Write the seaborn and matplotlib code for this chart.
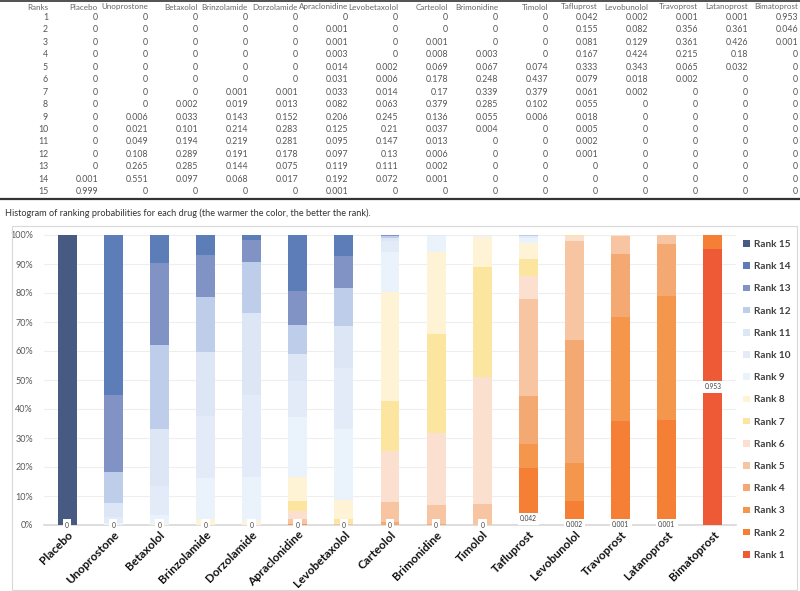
import numpy as np
import pandas as pd
import matplotlib
matplotlib.use("Agg")
import matplotlib.pyplot as plt
from matplotlib.patches import Rectangle, Patch
from matplotlib.lines import Line2D
from matplotlib.ticker import PercentFormatter
import seaborn as sns

drugs = ["Placebo", "Unoprostone", "Betaxolol", "Brinzolamide", "Dorzolamide",
         "Apraclonidine", "Levobetaxolol", "Carteolol", "Brimonidine", "Timolol",
         "Tafluprost", "Levobunolol", "Travoprost", "Latanoprost", "Bimatoprost"]
ranks = list(range(1, 16))

# probability of each rank (rank 1 .. rank 15) per drug
placebo = [0, 0, 0, 0, 0, 0, 0, 0, 0, 0, 0, 0, 0, 0.001, 0.999]
unoprostone = [0, 0, 0, 0, 0, 0, 0, 0, 0.006, 0.021, 0.049, 0.108, 0.265, 0.551, 0]
betaxolol = [0, 0, 0, 0, 0, 0, 0, 0.002, 0.033, 0.101, 0.194, 0.289, 0.285, 0.097, 0]
brinzolamide = [0, 0, 0, 0, 0, 0, 0.001, 0.019, 0.143, 0.214, 0.219, 0.191, 0.144, 0.068, 0]
dorzolamide = [0, 0, 0, 0, 0, 0, 0.001, 0.013, 0.152, 0.283, 0.281, 0.178, 0.075, 0.017, 0]
apraclonidine = [0, 0.001, 0.001, 0.003, 0.014, 0.031, 0.033, 0.082, 0.206, 0.125, 0.095, 0.097, 0.119, 0.192, 0.001]
levobetaxolol = [0, 0, 0, 0, 0.002, 0.006, 0.014, 0.063, 0.245, 0.21, 0.147, 0.13, 0.111, 0.072, 0]
carteolol = [0, 0, 0.001, 0.008, 0.069, 0.178, 0.17, 0.379, 0.136, 0.037, 0.013, 0.006, 0.002, 0.001, 0]
brimonidine = [0, 0, 0, 0.003, 0.067, 0.248, 0.339, 0.285, 0.055, 0.004, 0, 0, 0, 0, 0]
timolol = [0, 0, 0, 0, 0.074, 0.437, 0.379, 0.102, 0.006, 0, 0, 0, 0, 0, 0]
tafluprost = [0.042, 0.155, 0.081, 0.167, 0.333, 0.079, 0.061, 0.055, 0.018, 0.005, 0.002, 0.001, 0, 0, 0]
levobunolol = [0.002, 0.082, 0.129, 0.424, 0.343, 0.018, 0.002, 0, 0, 0, 0, 0, 0, 0, 0]
travoprost = [0.001, 0.356, 0.361, 0.215, 0.065, 0.002, 0, 0, 0, 0, 0, 0, 0, 0, 0]
latanoprost = [0.001, 0.361, 0.426, 0.18, 0.032, 0, 0, 0, 0, 0, 0, 0, 0, 0, 0]
bimatoprost = [0.953, 0.046, 0.001, 0, 0, 0, 0, 0, 0, 0, 0, 0, 0, 0, 0]

probs = pd.DataFrame(
    [placebo, unoprostone, betaxolol, brinzolamide, dorzolamide, apraclonidine,
     levobetaxolol, carteolol, brimonidine, timolol, tafluprost, levobunolol,
     travoprost, latanoprost, bimatoprost],
    index=drugs, columns=ranks)

# rank 1 .. rank 15, warm = better
rank_colors = ["#EE5A35", "#F47F35", "#F4964B", "#F4A872", "#F7C5A2", "#FBDFCF",
               "#FBE59F", "#FEF3D5", "#EAF3FC", "#E2EBF7", "#DCE6F4", "#BDCDEA",
               "#8193C4", "#5C7DB8", "#465A82"]

W, H = 800, 591
sns.set_theme(style="white")
plt.rcParams["font.family"] = ["Lato", "DejaVu Sans"]

fig = plt.figure(figsize=(W / 100, H / 100), dpi=100)

def fx(px):
    return px / W

def fy(py):
    return 1 - py / H

# ---- table on top ----
text_col = "#555555"
col_x = [48 + 50 * i for i in range(16)]
headers = ["Ranks"] + drugs
for x, h in zip(col_x, headers):
    fig.text(fx(x), fy(7), h, ha="right", va="center", fontsize=5.8, color="#666666")
row_step = 12.45
for r in ranks:
    y = 17.5 + (r - 1) * row_step
    fig.text(fx(col_x[0]), fy(y), str(r), ha="right", va="center", fontsize=6.3, color=text_col)
    for j, d in enumerate(drugs):
        v = probs.loc[d, r]
        s = "0" if v == 0 else f"{v:g}"
        fig.text(fx(col_x[j + 1]), fy(y), s, ha="right", va="center", fontsize=6.3, color=text_col)
fig.add_artist(Line2D([0, 1], [fy(0.8), fy(0.8)], transform=fig.transFigure, color="#333333", lw=1.2))
fig.add_artist(Line2D([0, 1], [fy(199), fy(199)], transform=fig.transFigure, color="#333333", lw=1.6))

fig.text(fx(5), fy(213), "Histogram of ranking probabilities for each drug (the warmer the color, the better the rank).",
         ha="left", va="center", fontsize=6.6, color="#333333")

# chart frame
fig.add_artist(Rectangle((fx(12), fy(590)), fx(785), (578 - 226 + 12) / H, transform=fig.transFigure,
                         fill=False, edgecolor="#D9D9D9", lw=0.8))

# ---- stacked bar chart ----
ax = fig.add_axes([fx(44), fy(525), fx(692), (525 - 235) / H])
cum = probs.cumsum(axis=1)
handles = []
for r in reversed(ranks):
    c = rank_colors[r - 1]
    sns.barplot(x=drugs, y=cum[r].values, color=c, width=0.41, ax=ax, saturation=1,
                linewidth=0, edgecolor="none", zorder=3)
    handles.append(Patch(facecolor=c, edgecolor="none", label=f"Rank {r}"))

ax.set_ylim(0, 1)
ax.set_xlim(-0.5, len(drugs) - 0.5)
ax.yaxis.set_major_locator(plt.MultipleLocator(0.1))
ax.yaxis.set_major_formatter(PercentFormatter(1.0, decimals=0))
ax.grid(axis="y", color="#EEEEEE", lw=0.8, zorder=0)
ax.set_axisbelow(True)
for s in ["top", "right", "left"]:
    ax.spines[s].set_visible(False)
ax.spines["bottom"].set_color("#D9D9D9")
ax.tick_params(axis="y", labelsize=6.5, labelcolor="#595959", length=0, pad=8)
ax.tick_params(axis="x", length=0, pad=3)
ax.set_xticks(range(len(drugs)))
ax.set_xticklabels(drugs, rotation=45, ha="right", rotation_mode="anchor",
                   fontsize=8.5, fontweight="bold", color="#111111")
ax.set_xlabel("")
ax.set_ylabel("")

# rank 1 data labels
for i, d in enumerate(drugs):
    v = probs.loc[d, 1]
    s = "0" if v == 0 else f"{v:g}"
    ax.text(i, v / 2, s, ha="center", va="center", fontsize=4.8, color="#404040", zorder=5,
            bbox=dict(boxstyle="square,pad=0.35", facecolor="white", edgecolor="none"))

fig.legend(handles=handles, loc="upper left", bbox_to_anchor=(fx(743), fy(240)), frameon=False,
           handlelength=0.65, handleheight=0.65, handletextpad=0.45,
           labelspacing=1.32, borderaxespad=0, borderpad=0,
           prop={"weight": "bold", "size": 7.2})
for t in fig.legends[0].get_texts():
    t.set_color("#404040")

fig.savefig("out.png", dpi=100)
